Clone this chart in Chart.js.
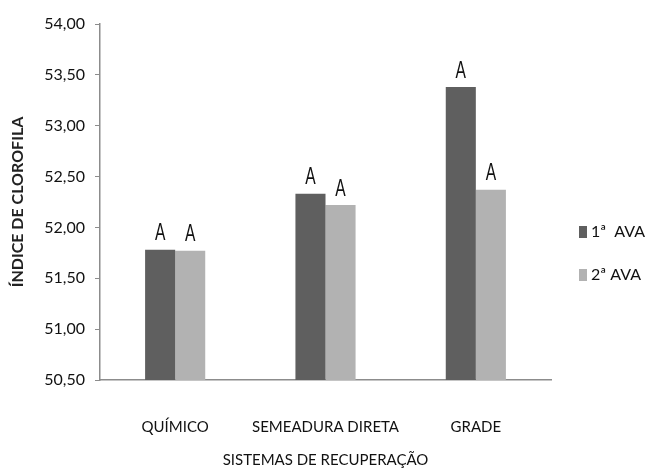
<!DOCTYPE html>
<html lang="pt-BR">
<head>
    <meta charset="UTF-8">
    <title>Índice de clorofila</title>
    <script src="https://cdn.jsdelivr.net/npm/chart.js"></script>
    <style>
        body { margin: 0; background: #fff; }
        #wrap { width: 648px; height: 475px; }
    </style>
</head>
<body>
    <div id="wrap">
        <canvas id="grafico" width="648" height="475"></canvas>
    </div>

    <script>
        // dados
        const categorias = ['QUÍMICO', 'SEMEADURA DIRETA', 'GRADE'];
        const ava1 = [51.78, 52.33, 53.38];
        const ava2 = [51.77, 52.22, 52.37];
        const letras1 = ['A', 'A', 'A'];
        const letras2 = ['A', 'A', 'A'];
        const nomesSeries = ['1ª  AVA', '2ª AVA'];
        const yMin = 50.5, yMax = 54, yPasso = 0.5;

        const corEixo = '#8c8c8c';

        // letras acima das barras (um pouco estreitas, como no original)
        const letrasPlugin = {
            id: 'letras',
            afterDatasetsDraw(chart) {
                const ctx = chart.ctx;
                ctx.save();
                ctx.font = '24px "Liberation Sans", sans-serif';
                ctx.fillStyle = '#111';
                ctx.textAlign = 'center';
                ctx.textBaseline = 'bottom';
                chart.data.datasets.forEach(function(ds, i) {
                    chart.getDatasetMeta(i).data.forEach(function(bar, j) {
                        ctx.save();
                        ctx.translate(bar.x, bar.y - 4);
                        ctx.scale(0.65, 1);
                        ctx.fillText(ds.letras[j], 0, 0);
                        ctx.restore();
                    });
                });
                ctx.restore();
            }
        };

        // legenda à direita
        const legendaPlugin = {
            id: 'legenda',
            afterDraw(chart) {
                const ctx = chart.ctx;
                const ys = [232, 275];
                ctx.save();
                ctx.font = '16px Lato, sans-serif';
                ctx.textBaseline = 'middle';
                chart.data.datasets.forEach(function(ds, i) {
                    ctx.fillStyle = ds.backgroundColor;
                    ctx.fillRect(579, ys[i] - 6, 8, 12);
                    ctx.fillStyle = '#111';
                    ctx.fillText(ds.label, 591, ys[i]);
                });
                ctx.restore();
            }
        };

        const config = {
            type: 'bar',
            data: {
                labels: categorias,
                datasets: [
                    { label: nomesSeries[0], data: ava1, letras: letras1, backgroundColor: '#5f5f5f' },
                    { label: nomesSeries[1], data: ava2, letras: letras2, backgroundColor: '#b2b2b2' }
                ]
            },
            options: {
                responsive: false,
                animation: false,
                layout: { padding: { top: 24, right: 97, left: 0, bottom: 0 } },
                datasets: {
                    bar: { categoryPercentage: 0.4, barPercentage: 1.0 }
                },
                plugins: {
                    legend: { display: false },
                    tooltip: { enabled: false }
                },
                scales: {
                    x: {
                        grid: { display: false },
                        border: { display: true, color: corEixo, width: 1.5 },
                        ticks: { color: '#111', font: { family: 'Lato', size: 15 }, padding: 30, maxRotation: 0 },
                        title: {
                            display: true,
                            text: 'SISTEMAS DE RECUPERAÇÃO',
                            color: '#111',
                            font: { family: 'Lato', size: 15 },
                            padding: { top: 0, bottom: 6 }
                        },
                        afterFit(scale) { scale.height = 95; }
                    },
                    y: {
                        min: yMin,
                        max: yMax,
                        grid: { drawOnChartArea: false, drawTicks: true, tickLength: 5, color: corEixo },
                        border: { display: true, color: corEixo, width: 1.5 },
                        ticks: {
                            stepSize: yPasso,
                            padding: 10,
                            color: '#111',
                            font: { family: 'Lato', size: 16 },
                            callback: function(v) { return v.toFixed(2).replace('.', ','); }
                        },
                        title: {
                            display: true,
                            text: 'ÍNDICE DE CLOROFILA',
                            color: '#222',
                            font: { family: 'Lato', size: 16, weight: 'bold' },
                            padding: { top: 8, bottom: 0 }
                        },
                        afterFit(scale) { scale.width = 100; }
                    }
                }
            },
            plugins: [letrasPlugin, legendaPlugin]
        };

        new Chart(document.getElementById('grafico').getContext('2d'), config);
    </script>
</body>
</html>
